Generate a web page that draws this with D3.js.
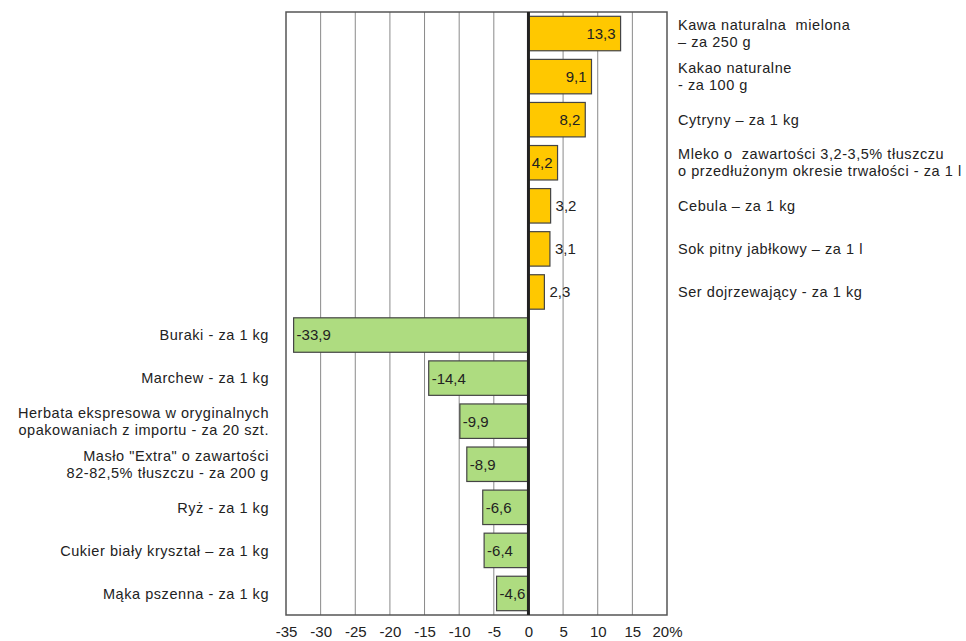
<!DOCTYPE html>
<html><head><meta charset="utf-8">
<script src="https://cdn.jsdelivr.net/npm/d3@7"></script>
<style>body{margin:0;background:#fff;} text{font-family:"Liberation Sans",Arial,sans-serif;fill:#222;white-space:pre;}</style>
</head><body>
<svg id="c" width="966" height="641"></svg>
<script>
const categories = [
  ["Kawa naturalna  mielona","– za 250 g"],
  ["Kakao naturalne","- za 100 g"],
  ["Cytryny – za 1 kg"],
  ["Mleko o  zawartości 3,2-3,5% tłuszczu","o przedłużonym okresie trwałości - za 1 l"],
  ["Cebula – za 1 kg"],
  ["Sok pitny jabłkowy – za 1 l"],
  ["Ser dojrzewający - za 1 kg"],
  ["Buraki - za 1 kg"],
  ["Marchew - za 1 kg"],
  ["Herbata ekspresowa w oryginalnych","opakowaniach z importu - za 20 szt."],
  ["Masło \"Extra\" o zawartości","82-82,5% tłuszczu - za 200 g"],
  ["Ryż - za 1 kg"],
  ["Cukier biały kryształ – za 1 kg"],
  ["Mąka pszenna - za 1 kg"]
];
const values = [13.3, 9.1, 8.2, 4.2, 3.2, 3.1, 2.3, -33.9, -14.4, -9.9, -8.9, -6.6, -6.4, -4.6];
const tickValues = [-35,-30,-25,-20,-15,-10,-5,0,5,10,15,20];
const tickLabels = ["-35","-30","-25","-20","-15","-10","-5","0","5","10","15","20%"];

const svg = d3.select("#c");
const L = 286, R = 667, T = 12, B = 615;
const x = d3.scaleLinear().domain([-35,20]).range([L,R]);
const y = d3.scaleBand().domain(d3.range(values.length)).range([T,B]).paddingInner(0.2).paddingOuter(0.1);
const fmt = v => v.toFixed(1).replace(".",",");

// grid
svg.append("g").selectAll("line").data(tickValues.filter(t=>t!==0 && t!==-35 && t!==20)).join("line")
  .attr("x1",d=>x(d)).attr("x2",d=>x(d)).attr("y1",T).attr("y2",B)
  .attr("stroke","#8a8a8a").attr("stroke-width",1);
// frame
svg.append("rect").attr("x",L).attr("y",T).attr("width",R-L).attr("height",B-T)
  .attr("fill","none").attr("stroke","#555").attr("stroke-width",1.5);

// bars
svg.append("g").selectAll("rect").data(values).join("rect")
  .attr("x",d=>x(Math.min(0,d))).attr("width",d=>Math.abs(x(d)-x(0)))
  .attr("y",(d,i)=>y(i)).attr("height",y.bandwidth())
  .attr("fill",d=>d>0?"#FFC800":"#AEDC80")
  .attr("stroke","#444").attr("stroke-width",1.2);

// zero line
svg.append("line").attr("x1",x(0)).attr("x2",x(0)).attr("y1",T).attr("y2",B)
  .attr("stroke","#222").attr("stroke-width",3);

// value labels
svg.append("g").selectAll("text").data(values).join("text")
  .attr("y",(d,i)=>y(i)+y.bandwidth()/2).attr("dy","0.36em")
  .attr("font-size",15)
  .each(function(d){
    const t = d3.select(this);
    if (d < 0) { t.attr("x", x(d)+3).attr("text-anchor","start"); }
    else if (x(d)-x(0) > 28) { t.attr("x", x(d)-5).attr("text-anchor","end"); }
    else { t.attr("x", x(d)+5).attr("text-anchor","start"); }
  })
  .text(d=>fmt(d));

// category labels
const fs = 14.5;
const lab = svg.append("g").selectAll("text").data(categories).join("text")
  .attr("font-size",fs).attr("letter-spacing","0.55px")
  .attr("x",(d,i)=>values[i]>0 ? R+11 : L-17)
  .attr("text-anchor",(d,i)=>values[i]>0 ? "start":"end")
  .attr("y",(d,i)=>y(i)+y.bandwidth()/2);
lab.each(function(d){
  const t = d3.select(this);
  const lh = 17;
  d.forEach((line,k)=>{
    t.append("tspan").attr("x",t.attr("x"))
     .attr("dy", k===0 ? ((-(d.length-1)*lh/2)/fs+0.36)+"em" : lh+"px")
     .text(line);
  });
});

// axis
const axis = d3.axisBottom(x).tickValues(tickValues).tickSize(0).tickPadding(11)
  .tickFormat((d,i)=>tickLabels[i]);
const ag = svg.append("g").attr("transform",`translate(0,${B})`).call(axis);
ag.select(".domain").remove();
ag.selectAll("text").attr("font-size",15).attr("font-family","Liberation Sans, Arial, sans-serif").attr("fill","#222");
</script>
</body></html>
